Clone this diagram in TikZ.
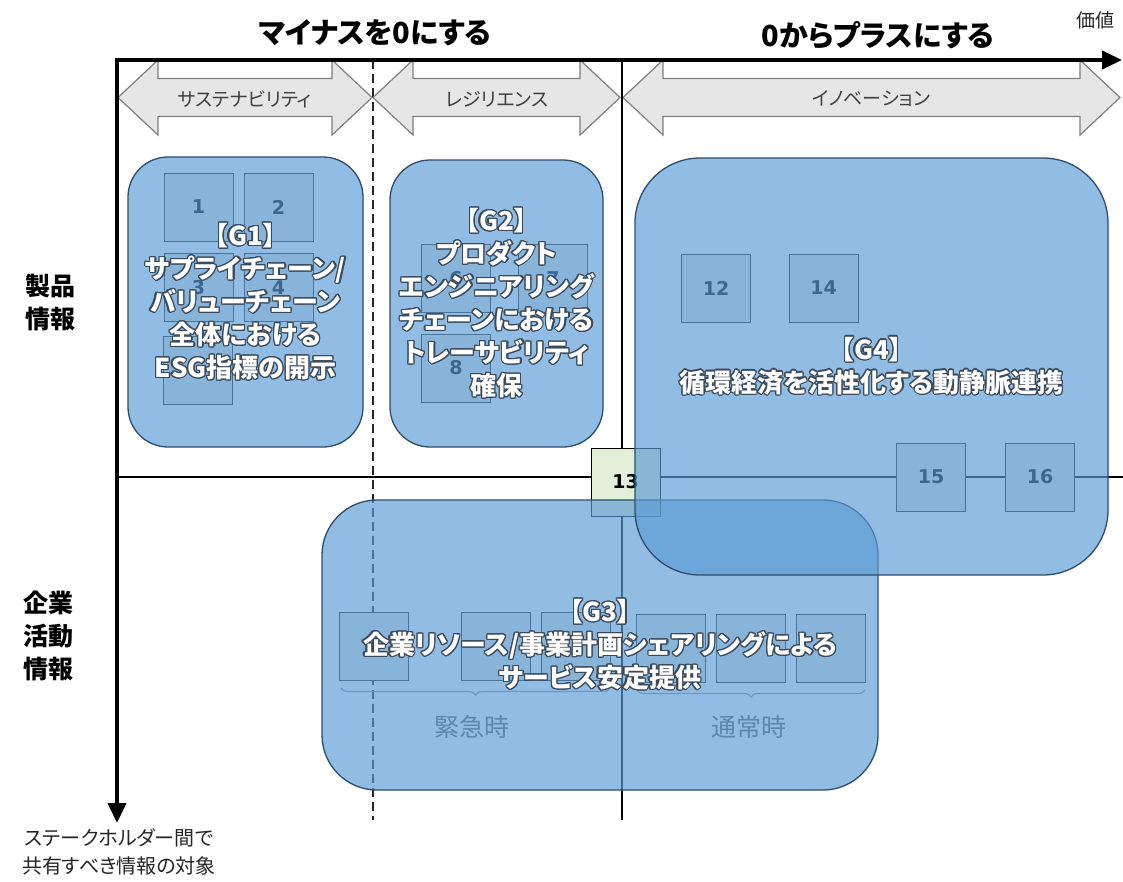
\documentclass[tikz,border=0pt]{standalone}
\usepackage{fontspec}
\setmainfont{Noto Sans CJK JP}[RawFeature=+palt]
\newfontfamily\numfont{DejaVu Sans}
\usepackage[copies]{contour}
\contourlength{1.2pt}
\contournumber{16}
\usetikzlibrary{arrows.meta,decorations.pathreplacing}
\definecolor{gblue}{HTML}{5B9BD5}
\definecolor{gborder}{HTML}{2F4D6B}
\definecolor{boxfill}{HTML}{E7E6E6}
\definecolor{boxline}{HTML}{262626}
\definecolor{greenbox}{HTML}{E2F0D9}
\definecolor{arrfill}{HTML}{E6E6E6}
\definecolor{arrline}{HTML}{7F7F7F}
\definecolor{arrtext}{HTML}{404040}
\definecolor{gshadow}{HTML}{3A4A5C}
\definecolor{bracecol}{HTML}{909090}
\definecolor{phasecol}{HTML}{606060}
\newcommand\gl[1]{\contour{gshadow}{#1}}
\newcommand\dblarr[2]{%
  \draw[blkarrow] (#1,97.5) -- (#1+40,60) -- (#1+40,78.5) -- (#2-40,78.5) -- (#2-40,60)
    -- (#2,97.5) -- (#2-40,135) -- (#2-40,116.5) -- (#1+40,116.5) -- (#1+40,135) -- cycle;}
\tikzset{
  gbox/.style={draw=gborder, line width=1.3pt, fill=gblue, fill opacity=0.665, text opacity=1,
    rounded corners=#1, text=white, font=\bfseries\fontsize{26}{33}\selectfont, align=center, inner sep=0pt},
  numbox/.style={draw=boxline, line width=1pt, fill=boxfill, minimum width=69pt, minimum height=68pt,
    inner sep=0pt, font=\numfont\bfseries\fontsize{19}{19}\selectfont, text=black},
  greenbox/.style={numbox, fill=greenbox, draw=black},
  blkarrow/.style={fill=arrfill, draw=arrline, line width=1.2pt, line join=miter},
  arrlabel/.style={font=\fontsize{19}{19}\selectfont, text=arrtext, inner sep=0pt},
  toptitle/.style={font=\bfseries\fontsize{29}{29}\selectfont, inner sep=0pt},
  sidelabel/.style={font=\bfseries\fontsize{25}{33}\selectfont, align=center, inner sep=0pt},
  axisline/.style={line width=4pt, line join=miter, {Triangle[length=20pt,width=18pt]}-{Triangle[length=20pt,width=18pt]}},
  dashline/.style={line width=1.5pt, dash pattern=on 9pt off 5pt, draw=black!85},
  thinline/.style={line width=1.4pt, draw=black},
  bracestyle/.style={draw=bracecol, line width=1.1pt, decorate, decoration={brace, amplitude=7pt, mirror}},
  phase/.style={font=\fontsize{25}{25}\selectfont, text=phasecol, inner sep=0pt},
}
\begin{document}
\begin{tikzpicture}[x=1pt,y=-1pt]
\useasboundingbox (0,0) rectangle (1123,881);
\fill[white] (0,0) rectangle (1123,881);

% reference coordinates
\coordinate (origin) at (117,60);
\coordinate (xend) at (1122,60);
\coordinate (yend) at (117,823);
\coordinate (dTop) at (373,60);
\coordinate (dBot) at (373,820);
\coordinate (sTop) at (622,60);
\coordinate (sBot) at (622,820);
\coordinate (mL) at (117,477);
\coordinate (mR) at (1123,477);

% dashed separator
\draw[dashline] (dTop) -- (dBot);

% block double arrows
\dblarr{118}{372}
\dblarr{373}{620}
\dblarr{623}{1120}
\node[arrlabel] (lsus) at (245,99) {サステナビリティ};
\node[arrlabel] (lres) at (497,99) {レジリエンス};
\node[arrlabel] (linn) at (871,99) {イノベーション};

% solid separator
\draw[thinline] (sTop) -- (sBot);

% axes
\draw[axisline] (xend) -- (origin) -- (yend);

% titles
\node[toptitle] (t1) at (375,33) {マイナスを0にする};
\node[toptitle] (t2) at (878,35) {0からプラスにする};
\node[font=\fontsize{19}{19}\selectfont, text=black!85, inner sep=0pt] (val) at (1095,20) {価値};
\node[sidelabel] (prod) at (50,303) {製品\\情報};
\node[sidelabel] (corp) at (48,636) {企業\\活動\\情報};
\node[font=\fontsize{20}{28}\selectfont, align=center, text=black!85, inner sep=0pt] (stake) at (119,852)
  {ステークホルダー間で\\共有すべき情報の対象};

% small boxes
\node[numbox] (b1) at (198.5,207) {1};
\node[numbox] (b2) at (278.5,207) {2};
\node[numbox] (b3) at (198.5,287.5) {3};
\node[numbox] (b4) at (278.5,287.5) {4};
\node[numbox] (b5) at (197.5,370.5) {};
\node[numbox] (b6) at (456,278.5) {6};
\node[numbox] (b7) at (553,278.5) {7};
\node[numbox] (b8) at (456,368) {8};
\node[numbox] (b12) at (716,288) {12};
\node[numbox] (b14) at (823.5,288) {14};

% middle line and boxes on it
\node[greenbox] (b13) at (625.5,482) {13};
\node[numbox] (b15) at (931,477) {15};
\node[numbox] (b16) at (1040,477) {16};
\draw[thinline] (mL) -- (mL -| b13.west);
\draw[thinline] (b13.east |- mL) -- (b15.west);
\draw[thinline] (b15.east) -- (b16.west);
\draw[thinline] (b16.east) -- (mR);

% G3 boxes
\node[numbox] (g3a) at (373.5,646) {};
\node[numbox] (g3b) at (495.5,646) {};
\node[numbox] (g3c) at (575.5,646) {};
\node[numbox] (g3d) at (670.5,648.5) {};
\node[numbox] (g3e) at (750.5,648.5) {};
\node[numbox] (g3f) at (831,648.5) {};
\coordinate (brL1) at (341,688);
\coordinate (brL2) at (610,688);
\coordinate (brR1) at (637,690);
\coordinate (brR2) at (865,690);
\draw[bracestyle] (brL1) -- (brL2);
\draw[bracestyle] (brR1) -- (brR2);
\node[phase] (emg) at (472,727) {緊急時};
\node[phase] (nrm) at (749,727) {通常時};

% group boxes
\node[gbox=40pt, minimum width=235pt, minimum height=290pt] (G1) at (245.5,302)
  {\gl{【G1】}\\\gl{サプライチェーン/}\\\gl{バリューチェーン}\\\gl{全体における}\\\gl{ESG指標の開示}};
\node[gbox=40pt, minimum width=213pt, minimum height=287pt] (G2) at (496.5,303.5)
  {\gl{【G2】}\\\gl{プロダクト}\\\gl{エンジニアリング}\\\gl{チェーンにおける}\\\gl{トレーサビリティ}\\\gl{確保}};
\node[gbox=55pt, minimum width=556pt, minimum height=290pt] (G3) at (600,645)
  {\gl{【G3】}\\\gl{企業リソース/事業計画シェアリングによる}\\\gl{サービス安定提供}};
\node[gbox=65pt, minimum width=473pt, minimum height=417pt] (G4) at (871.5,366.5)
  {\gl{【G4】}\\\gl{循環経済を活性化する動静脈連携}};
\end{tikzpicture}
\end{document}
